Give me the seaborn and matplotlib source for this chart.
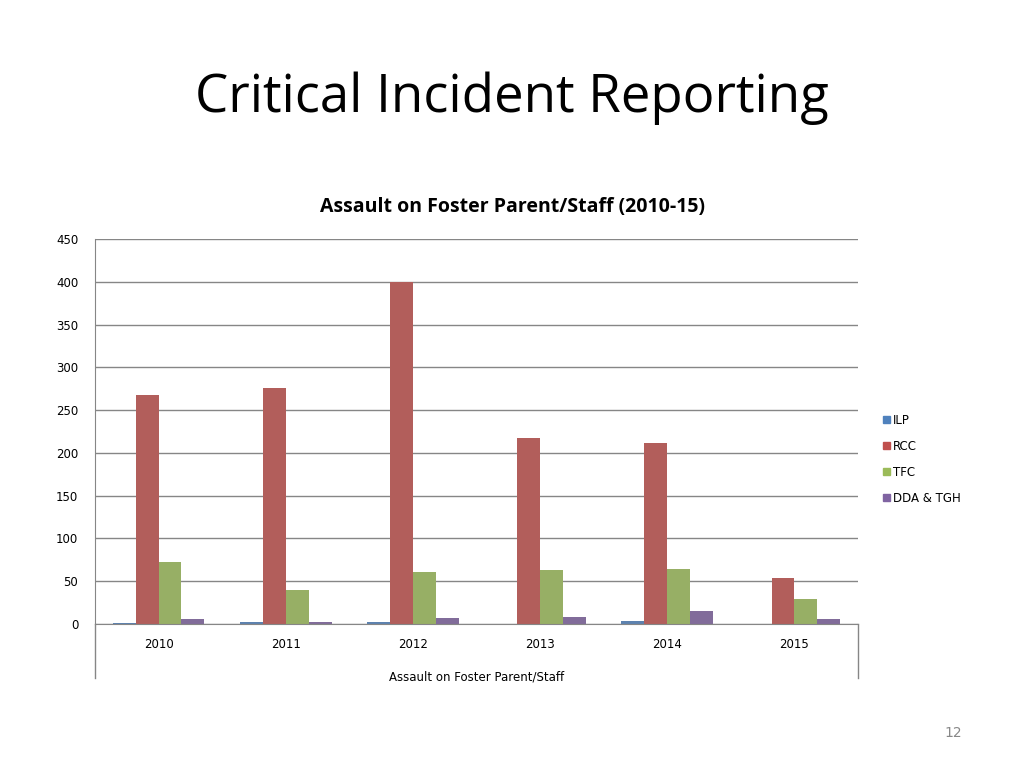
import pandas as pd
import matplotlib.pyplot as plt
import seaborn as sns
from matplotlib.lines import Line2D

years = ['2010', '2011', '2012', '2013', '2014', '2015']
ilp = [1, 2, 2, 0, 3, 0]
rcc = [268, 276, 400, 217, 211, 54]
tfc = [72, 40, 61, 63, 64, 29]
dda = [6, 2, 7, 8, 15, 6]
series = ['ILP', 'RCC', 'TFC', 'DDA & TGH']
colors = ['#4F81BD', '#C0504D', '#9BBB59', '#8064A2']

rows = []
for name, vals in zip(series, [ilp, rcc, tfc, dda]):
    for y, v in zip(years, vals):
        rows.append({'year': y, 'series': name, 'value': v})
df = pd.DataFrame(rows)

fig = plt.figure(figsize=(10.24, 7.68), dpi=100)
ax = fig.add_axes([95 / 1024, 1 - 624 / 768, (858 - 95) / 1024, (624 - 239) / 768])
sns.barplot(data=df, x='year', y='value', hue='series', palette=colors,
            width=0.72, ax=ax, legend=False)

ax.set_ylim(0, 450)
ax.set_yticks(range(0, 451, 50))
ax.yaxis.grid(True, color='#868686', linewidth=1)
ax.set_axisbelow(True)
ax.tick_params(axis='y', length=0, labelsize=8.5, pad=12)
ax.tick_params(axis='x', length=0, labelsize=8.5, pad=10)
ax.set_xlabel('Assault on Foster Parent/Staff', fontsize=8.5, labelpad=14)
ax.set_ylabel('')
for s in ['top', 'right']:
    ax.spines[s].set_visible(False)
for s in ['left', 'bottom']:
    ax.spines[s].set_color('#868686')

# outer box extension below the category axis
for x in [95 / 1024, 858 / 1024]:
    fig.add_artist(Line2D([x, x], [1 - 678 / 768, 1 - 624 / 768], color='#868686', lw=1))

fig.text(0.5, 1 - 98 / 768, 'Critical Incident Reporting', ha='center', va='center',
         fontsize=38, family='Open Sans')
fig.text(0.5, 1 - 207 / 768, 'Assault on Foster Parent/Staff (2010-15)', ha='center',
         va='center', fontsize=14, fontweight='bold', family='Open Sans')

handles = [plt.Rectangle((0, 0), 1, 1, color=c) for c in colors]
fig.legend(handles, series, loc='upper left', bbox_to_anchor=(872 / 1024, 1 - 403 / 768),
           frameon=False, fontsize=8.5, handlelength=0.6, handleheight=0.6,
           handletextpad=0.3, labelspacing=1.1)

fig.text(953 / 1024, 1 - 733 / 768, '12', ha='center', va='center', fontsize=10, color='#888888')

fig.savefig('out.png', dpi=100)
